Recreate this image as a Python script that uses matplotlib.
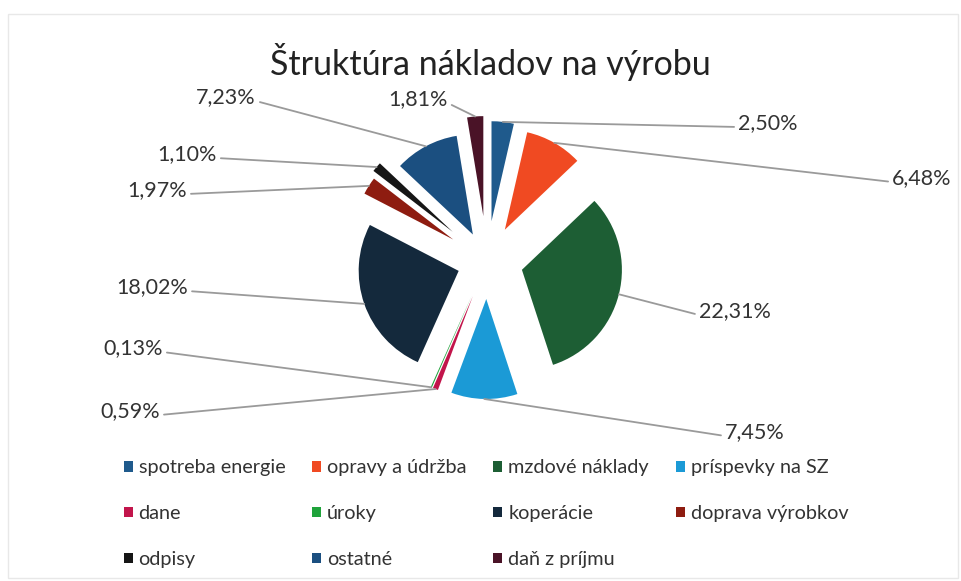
import numpy as np
import matplotlib.pyplot as plt
from matplotlib.patches import Rectangle

# slice data (clockwise from the top)
categories = ["spotreba energie", "opravy a údržba", "mzdové náklady", "príspevky na SZ",
              "dane", "úroky", "koperácie", "doprava výrobkov",
              "odpisy", "ostatné", "daň z príjmu"]
shares = [2.50, 6.48, 22.31, 7.45, 0.59, 0.13, 18.02, 1.97, 1.10, 7.23, 1.81]
colors = ["#1f5a8c", "#f04a22", "#1d5e34", "#1b9ad6", "#c2154b", "#1fa33b",
          "#14293c", "#8e1c10", "#161616", "#1b4f80", "#4a1327"]

# layout in pixel units (y counted from the bottom of the image)
W, H = 962, 581
center = (487, 320)
radius = 100
explode = [40, 36, 36, 38, 38, 38, 30, 40, 45, 30, 45]
label_pos = [(768, 458), (922, 403), (735, 270), (755, 149), (130, 170), (133, 233),
             (152, 294), (157, 391), (187, 427), (226, 484), (418, 482)]

plt.rcParams['font.family'] = ['Lato', 'DejaVu Sans']

fig = plt.figure(figsize=(W / 100, H / 100), dpi=100)
ax = fig.add_axes([0, 0, 1, 1])

wedges, _ = ax.pie(shares, colors=colors, startangle=90, counterclock=False,
                   center=center, radius=radius, explode=explode,
                   wedgeprops=dict(linewidth=0))
ax.set_xlim(0, W)
ax.set_ylim(0, H)
ax.set_aspect('equal')
ax.axis('off')

# faint chart border
ax.add_patch(Rectangle((8, 3), W - 12, H - 17, fill=False, edgecolor='#e8e8e8', lw=1))

ax.text(490, 519, "Štruktúra nákladov na výrobu", ha='center', va='center',
        fontsize=24.5, color='#222222')

# percentage labels with leader lines
for w, val, pos in zip(wedges, shares, label_pos):
    ang = np.deg2rad((w.theta1 + w.theta2) / 2)
    cx, cy = w.center
    edge = (cx + w.r * np.cos(ang), cy + w.r * np.sin(ang))
    right = pos[0] > center[0]
    txt = f"{val:.2f}%".replace(".", ",")
    ax.annotate(txt, xy=edge, xytext=pos, ha='center', va='center',
                fontsize=15.5, color='#333333',
                arrowprops=dict(arrowstyle='-', color='#9a9a9a', lw=1.3,
                                relpos=(0, 0.3) if right else (1, 0.3),
                                shrinkA=1, shrinkB=0))

# legend filled row by row
order = [0, 4, 8, 1, 5, 9, 2, 6, 10, 3, 7]
leg = ax.legend([wedges[i] for i in order], [categories[i] for i in order],
                ncol=4, loc='upper left', bbox_to_anchor=(0.11, 0.24),
                frameon=False, fontsize=14.3, handlelength=0.45, handleheight=0.45,
                handletextpad=0.3, columnspacing=1.35, labelspacing=1.45,
                labelcolor='#333333')

fig.savefig("out.png", dpi=100)
